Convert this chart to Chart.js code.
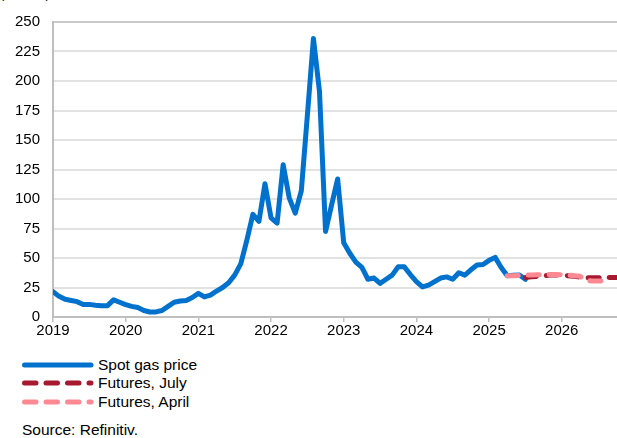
<!DOCTYPE html>
<html>
<head>
<meta charset="utf-8">
<script src="https://cdn.jsdelivr.net/npm/chart.js@4.4.1/dist/chart.umd.min.js"></script>
<style>
  html, body { margin: 0; padding: 0; background: #fff; }
  body { width: 617px; height: 438px; position: relative; overflow: hidden;
         font-family: "Liberation Sans", Arial, sans-serif; color: #000; }
  #unit { position: absolute; left: 0; top: -14px; font-size: 13px; }
  #wrap { position: absolute; left: 0; top: 0; width: 617px; height: 345px; }
  .leg { position: absolute; left: 20px; height: 18px; font-size: 15.5px; line-height: 18px; }
  .leg svg { position: absolute; left: 0; top: 4px; }
  .leg span { position: absolute; left: 78px; top: 0; white-space: nowrap; }
  #source { position: absolute; left: 22px; top: 421px; font-size: 15.5px; }
</style>
</head>
<body>
<div id="unit">(€/MWh)</div>
<div id="wrap"><canvas id="myChart" width="617" height="345"></canvas></div>
<div class="leg" style="top:356px">
  <svg width="78" height="10"><line x1="4.5" y1="5" x2="71" y2="5" stroke="#0072ce" stroke-width="5" stroke-linecap="round"/></svg>
  <span>Spot gas price</span>
</div>
<div class="leg" style="top:374px">
  <svg width="78" height="10"><line x1="4.5" y1="5" x2="71" y2="5" stroke="#a6192e" stroke-width="5" stroke-linecap="round" stroke-dasharray="11.5 10"/></svg>
  <span>Futures, July</span>
</div>
<div class="leg" style="top:393px">
  <svg width="78" height="10"><line x1="4.5" y1="5" x2="71" y2="5" stroke="#ff8992" stroke-width="5" stroke-linecap="round" stroke-dasharray="11.5 10"/></svg>
  <span>Futures, April</span>
</div>
<div id="source">Source: Refinitiv.</div>

<script>
// Месячные данные, первая точка — январь 2019
const startYear = 2019;
const spotStart = 0; // Jan 2019
const spotPrice = [
  21.5, 17.5, 15, 14, 13, 10.5, 10.7, 10, 9.5, 9.6, 14.5, 12.5,   // 2019
  10.5, 9, 8, 5.5, 4.2, 4.3, 5.5, 9, 12.5, 13.5, 14, 16.5,        // 2020
  20, 17, 18.5, 22, 25, 29, 35.5, 45, 65, 87, 81, 113,            // 2021
  84, 79.5, 129, 101, 88, 107, 171, 236, 191, 72.5, 95, 117,      // 2022
  63, 54, 46.5, 42, 32, 33, 28.5, 32, 35.5, 42.5, 42.5, 36,       // 2023
  30, 25.5, 27, 30, 33, 34, 32, 37.5, 35.5, 40, 44, 44.5,         // 2024
  48, 50.5, 42, 35, 35.3, 35.6, 32                                // 2025
];
const julyStart = 78; // Jul 2025
const futuresJuly = [33.5, 34, 34.5, 35, 35.5, 35.5, 35.5, 35, 34.5, 33.8, 33.3, 33.3, 33.3, 33.3, 33.5, 33.5];
const aprilStart = 75; // Apr 2025
const futuresApril = [35, 35, 35.3, 35.5, 35.5, 35.8, 36, 36, 36, 35.8, 35.5, 35, 34.5, 31, 30.5, 30.5, 30.7];
const seriesNames = ["Spot gas price", "Futures, July", "Futures, April"];
const yTicks = [0, 25, 50, 75, 100, 125, 150, 175, 200, 225, 250];

const toPoints = (arr, start) => arr.map((v, i) => ({ x: startYear + (start + i) / 12, y: v }));

const font = { family: "'Liberation Sans', Arial, sans-serif", size: 15 };

// setup
const data = {
  datasets: [
    {
      label: seriesNames[0],
      data: toPoints(spotPrice, spotStart),
      borderColor: "#0072ce",
      borderWidth: 5,
      order: 2,
    },
    {
      label: seriesNames[1],
      data: toPoints(futuresJuly, julyStart),
      borderColor: "#a6192e",
      borderWidth: 5,
      borderDash: [11, 10],
      order: 1,
    },
    {
      label: seriesNames[2],
      data: toPoints(futuresApril, aprilStart),
      borderColor: "#ff8992",
      borderWidth: 5,
      borderDash: [11, 10],
      order: 0,
    },
  ],
};

// config
const config = {
  type: "line",
  data,
  options: {
    responsive: false,
    animation: false,
    devicePixelRatio: 1,
    layout: { padding: { top: 20, left: 0, right: 0, bottom: 0 } },
    elements: {
      point: { radius: 0 },
      line: { tension: 0, borderCapStyle: "round", borderJoinStyle: "round", fill: false },
    },
    scales: {
      x: {
        type: "linear",
        min: startYear,
        max: 2026.76,
        ticks: {
          stepSize: 1,
          includeBounds: false,
          autoSkip: false,
          maxRotation: 0,
          padding: 0,
          color: "#000",
          font,
          callback: (v) => String(Math.round(v)),
        },
        grid: { drawOnChartArea: false, drawTicks: true, tickLength: 5, color: "#bfbfbf", lineWidth: 1.5 },
        border: { color: "#bfbfbf", width: 2 },
        afterFit: (s) => { s.height = 28; },
      },
      y: {
        min: 0,
        max: 250,
        afterBuildTicks: (s) => { s.ticks = yTicks.map((v) => ({ value: v })); },
        ticks: { padding: 13, color: "#000", font },
        grid: {
          drawTicks: false,
          lineWidth: 2,
          color: (ctx) => (ctx.tick && ctx.tick.value === 250 ? "#c9c9c9" : "#e2e2e2"),
        },
        border: { color: "#bfbfbf", width: 2 },
        afterFit: (s) => { s.width = 53; },
      },
    },
    plugins: {
      legend: { display: false },
      title: { display: false },
      tooltip: { enabled: false },
    },
  },
};

const myChart = new Chart(document.getElementById("myChart"), config);
</script>
</body>
</html>
